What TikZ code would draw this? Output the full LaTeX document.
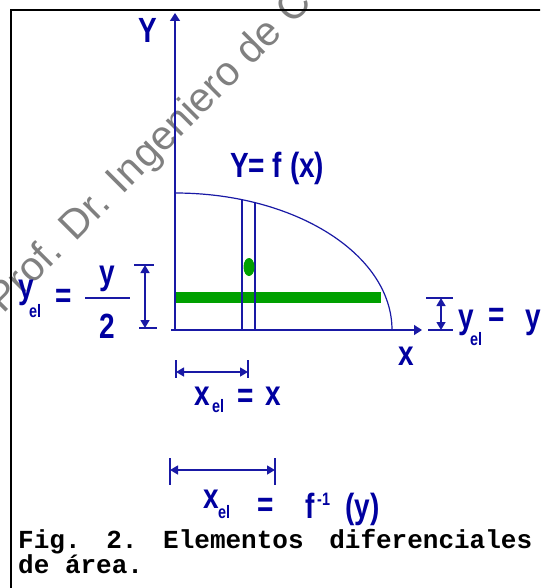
\documentclass[tikz,border=0pt]{standalone}
\usepackage{fontspec}
\usepackage{xcolor}
\usepackage{tikz}
\usetikzlibrary{arrows.meta}
\newfontfamily\lblfont{Liberation Sans}[UprightFont={* Bold}, FakeStretch=0.8]
\newfontfamily\capfont{Liberation Mono}[UprightFont={* Bold}]
\newfontfamily\wmfont{Liberation Sans}
\definecolor{figblue}{RGB}{0,0,160}
\definecolor{lineblue}{RGB}{25,25,165}
\definecolor{bargreen}{RGB}{0,160,0}
\definecolor{wmgray}{RGB}{128,128,128}

\begin{document}
\begin{tikzpicture}[
    x=1pt, y=-1pt,
    lbl/.style={
      anchor=base west,
      inner sep=0pt,
      text=figblue,
      font=\lblfont\fontsize{35}{40}\selectfont
    },
    sublbl/.style={lbl, font=\lblfont\fontsize{18}{20}\selectfont},
    axis/.style={draw=lineblue, line width=1.4pt, -{Triangle[length=8pt,width=10pt]}},
    dim/.style={draw=lineblue, line width=1.4pt, {Triangle[length=8pt,width=9pt]}-{Triangle[length=8pt,width=9pt]}},
    tick/.style={draw=lineblue, line width=1.4pt},
    line/.style={draw=lineblue, line width=1.2pt},
    caption/.style={anchor=base west, inner sep=0pt, font=\capfont\fontsize{26}{30}\selectfont},
]
    \useasboundingbox (0,0) rectangle (540,588);
    \clip (0,0) rectangle (540,588);

    % watermark
    \node [anchor=base west, inner sep=0pt, rotate=45, text=wmgray,
      font=\wmfont\fontsize{41}{41}\selectfont] (wmark) at (3,315) {Prof. Dr. Ingeniero de C};

    % frame
    \coordinate (frameBL) at (11,600);
    \coordinate (frameTL) at (11,10);
    \coordinate (frameTR) at (550,10);
    \draw [line width=2.5pt] (frameBL) -- (frameTL) -- (frameTR);

    % axes and curve
    \coordinate (O) at (175,330);
    \coordinate (xstart) at (171,330);
    \coordinate (xend) at (422,330);
    \coordinate (yend) at (175,13);
    \coordinate (ctop) at (175,193);
    \coordinate (cend) at (392,330);
    \fill [bargreen] (176,292) rectangle (381,303);
    \path [axis] (O) -- (yend);
    \path [axis] (xstart) -- (xend);
    \path [line] (ctop) .. controls (294.8,193) and (392,254.3) .. (cend);

    % vertical strip
    \coordinate (s1top) at (242,200);
    \coordinate (s1bot) at (242,330);
    \coordinate (s2top) at (255,203);
    \coordinate (s2bot) at (255,330);
    \path [line] (s1top) -- (s1bot);
    \path [line] (s2top) -- (s2bot);
    \fill [bargreen] (249,267) ellipse [x radius=5.5, y radius=9];

    % labels
    \node [lbl] (ylab) at (138,43) {Y};
    \node [lbl] (fx) at (230,177) {Y= f (x)};
    \node [lbl] (xlab) at (398,365) {x};

    % y_el = y/2
    \node [lbl] (yelL) at (18,298) {y};
    \node [sublbl] (yelLsub) at (29,317) {el};
    \node [lbl] (eqL) at (55,307) {=};
    \node [lbl, anchor=base] (numL) at (107.5,284) {y};
    \node [lbl, anchor=base] (denL) at (107.5,338) {2};
    \coordinate (barL) at (85,298);
    \coordinate (barR) at (130,298);
    \path [line] (barL) -- (barR);

    \coordinate (dLt) at (145,265);
    \coordinate (dLb) at (145,328);
    \path [tick] (134,265) -- (154,265);
    \path [tick] (139,328) -- (157,328);
    \path [dim] (dLt) -- (dLb);

    % y_el = y
    \coordinate (dRt) at (441,298);
    \coordinate (dRb) at (441,330);
    \path [tick] (426,298) -- (453,298);
    \path [tick] (428,330) -- (453,330);
    \path [dim] (dRt) -- (dRb);
    \node [lbl] (yelR) at (458,328) {y};
    \node [sublbl] (yelRsub) at (470,345) {el};
    \node [lbl] (eqR) at (488,326) {=};
    \node [lbl] (yR) at (525,328) {y};

    % x_el = x
    \coordinate (dAl) at (176,372);
    \coordinate (dAr) at (248,372);
    \path [tick] (176,360) -- (176,378);
    \path [tick] (248,360) -- (248,378);
    \path [dim] (dAl) -- (dAr);
    \node [lbl] (xelA) at (194,405) {x};
    \node [sublbl] (xelAsub) at (212,412) {el};
    \node [lbl] (eqA) at (237,407) {=};
    \node [lbl] (xA) at (265,405) {x};

    % x_el = f^-1(y)
    \coordinate (dBl) at (170,470);
    \coordinate (dBr) at (275,470);
    \path [tick] (170,458) -- (170,485);
    \path [tick] (275,458) -- (275,485);
    \path [dim] (dBl) -- (dBr);
    \node [lbl] (xelB) at (203,508) {x};
    \node [sublbl] (xelBsub) at (218,518) {el};
    \node [lbl] (eqB) at (257,516) {=};
    \node [lbl] (fB) at (305,518) {f};
    \node [sublbl] (invB) at (317,505) {-1};
    \node [lbl] (argB) at (345,518) {(y)};

    % caption
    \node [caption] (cap1) at (18,548) {\makebox[514pt][l]{Fig.\ \hfill 2.\ \hfill Elementos\ \hfill diferenciales}};
    \node [caption] (cap2) at (18,573) {de área.};
\end{tikzpicture}
\end{document}
